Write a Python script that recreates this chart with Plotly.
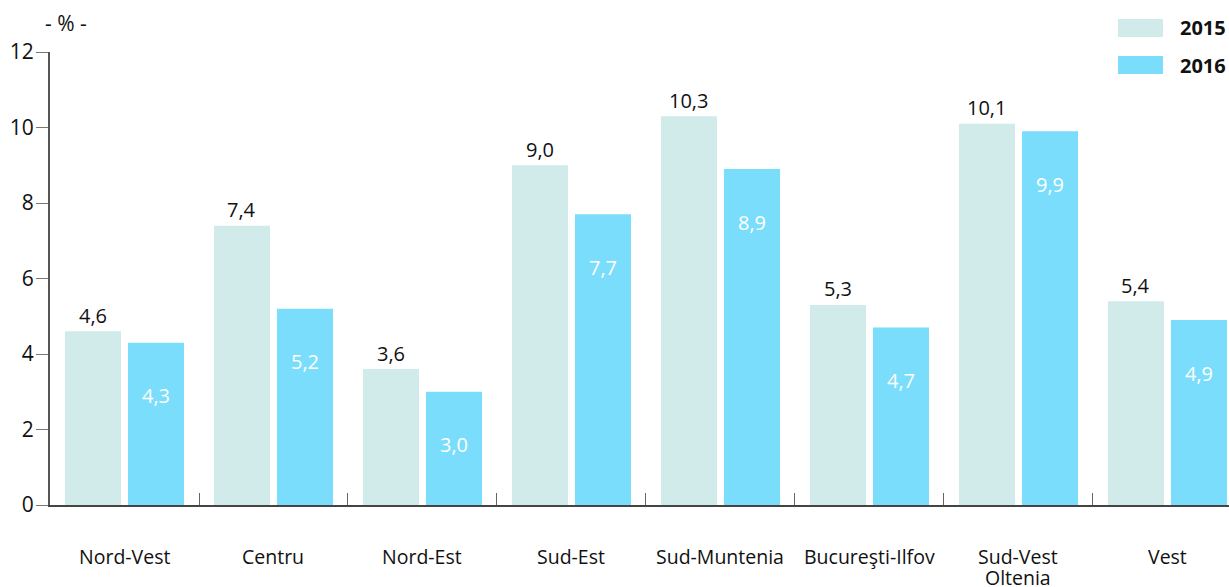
import plotly.graph_objects as go

regions = ["Nord-Vest", "Centru", "Nord-Est", "Sud-Est", "Sud-Muntenia",
           "Bucureşti-Ilfov", "Sud-Vest<br>Oltenia", "Vest"]
val_2015 = [4.6, 7.4, 3.6, 9.0, 10.3, 5.3, 10.1, 5.4]
val_2016 = [4.3, 5.2, 3.0, 7.7, 8.9, 4.7, 9.9, 4.9]
y_ticks = [0, 2, 4, 6, 8, 10, 12]

C15 = "#D1EAEA"
C16 = "#79DDFB"
FONT = "Open Sans"
x = list(range(len(regions)))

def fmt(v):
    return f"{v:.1f}".replace(".", ",")

fig = go.Figure()
fig.add_trace(go.Bar(x=x, y=val_2015, name="2015", marker=dict(color=C15, line=dict(width=0))))
fig.add_trace(go.Bar(x=x, y=val_2016, name="2016", marker=dict(color=C16, line=dict(width=0))))

# value labels
for i, v in enumerate(val_2015):
    fig.add_annotation(x=i, y=v, xshift=-31.5, yshift=16, text=fmt(v), showarrow=False,
                       yanchor="middle", font=dict(family=FONT, size=20, color="#111"))
for i, v in enumerate(val_2016):
    fig.add_annotation(x=i, y=v, xshift=31.5, yshift=-53, text=fmt(v), showarrow=False,
                       yanchor="middle", font=dict(family=FONT, size=20, color="white"))

# category labels (one annotation per line, tighter line spacing like the reference)
for i, name in enumerate(regions):
    for k, line in enumerate(name.split("<br>")):
        fig.add_annotation(x=i, y=0, yshift=-51 - 21 * k, text=line, showarrow=False,
                           xanchor="center", yanchor="middle", borderpad=0,
                           font=dict(family=FONT, size=19.5, color="#111"))

# unit label
fig.add_annotation(xref="paper", yref="paper", x=0.0136, y=1.064, text="- % -", showarrow=False,
                   xanchor="center", yanchor="middle", font=dict(family=FONT, size=21, color="#111"))

# custom legend
for name, col, yc in [("2015", C15, 1.0530), ("2016", C16, 0.9713)]:
    fig.add_shape(type="rect", xref="paper", yref="paper", x0=0.9059, x1=0.9440,
                  y0=yc - 0.0199, y1=yc + 0.0199, fillcolor=col, line=dict(width=0))
    fig.add_annotation(xref="paper", yref="paper", x=0.9567, y=yc, text=f"<b>{name}</b>",
                       showarrow=False, xanchor="left", yanchor="middle",
                       font=dict(family=FONT, size=20, color="#111"))

fig.update_layout(
    width=1229, height=587,
    margin=dict(l=50, r=0, t=52, b=82),
    paper_bgcolor="white", plot_bgcolor="white",
    barmode="group", bargap=0.154, bargroupgap=0.111,
    showlegend=False,
    font=dict(family=FONT, size=20, color="#111"),
    xaxis=dict(
        range=[-0.5, 7.413], tickmode="array", tickvals=x, ticktext=regions,
        showticklabels=False,
        ticks="", showgrid=False, zeroline=False, automargin=False,
        showline=True, linecolor="#444", linewidth=1.5,
        minor=dict(tickmode="array", tickvals=[i + 0.5 for i in x[:-1]],
                   ticks="inside", ticklen=12, tickcolor="#666", tickwidth=1, showgrid=False),
    ),
    yaxis=dict(
        range=[0, 12], tickmode="array", tickvals=y_ticks, ticktext=[str(t) for t in y_ticks],
        ticks="outside", ticklen=12, tickcolor="#777", tickwidth=1,
        showline=True, linecolor="#555", linewidth=2,
        showgrid=False, zeroline=False, automargin=False,
        tickfont=dict(family=FONT, size=21, color="#111"),
        ticklabelstandoff=-2,
    ),
)

fig.write_html("out.html", config={"displayModeBar": False},
               post_script="document.body.style.margin='0';document.body.style.overflow='hidden';")
